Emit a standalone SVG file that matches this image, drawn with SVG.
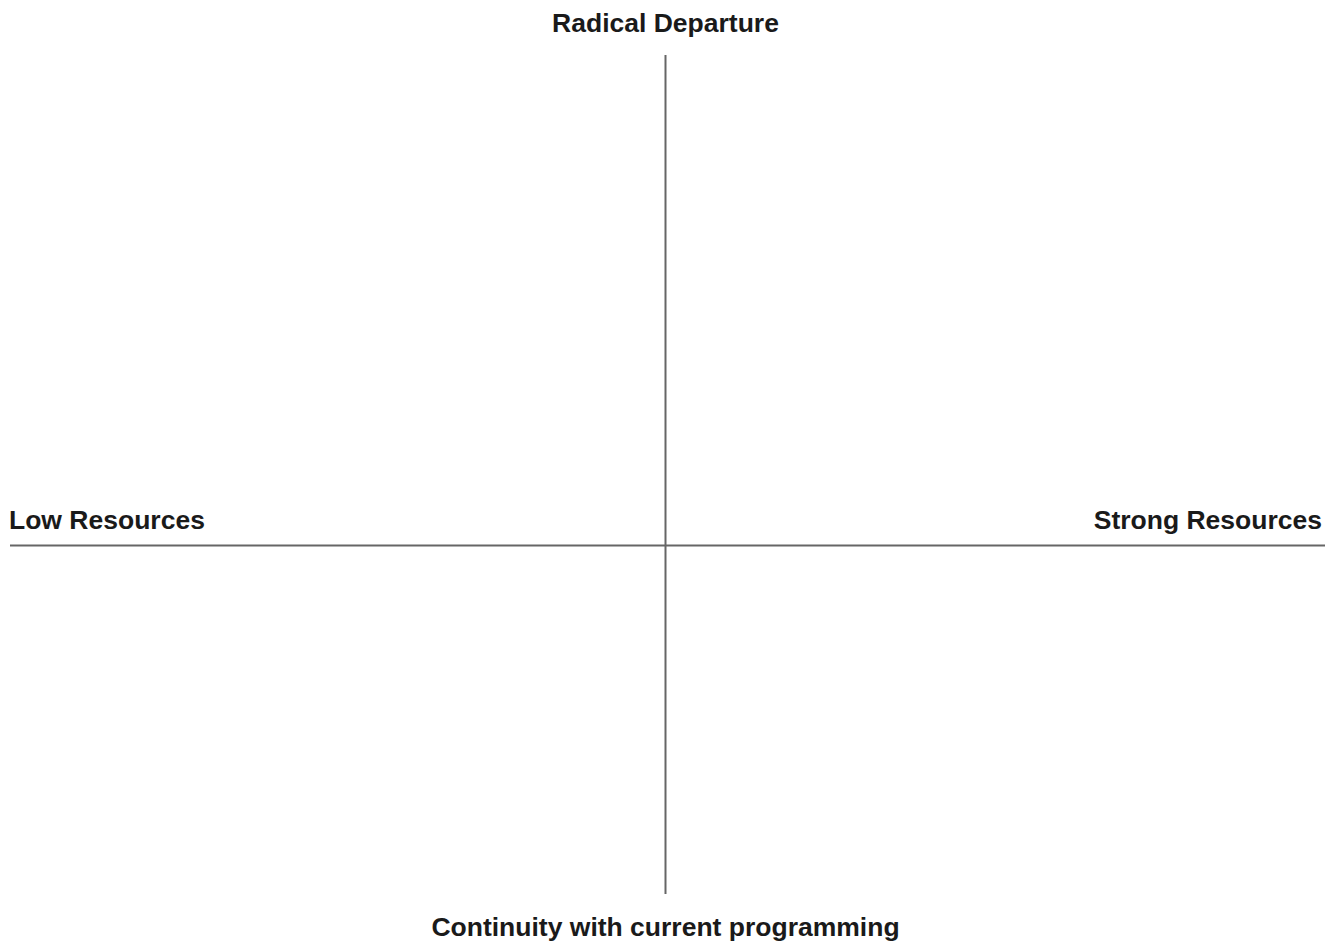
<svg xmlns="http://www.w3.org/2000/svg" width="1335" height="942" viewBox="0 0 1335 942">
<style>
.lbl{font-family:"Liberation Sans",Arial,sans-serif;font-weight:bold;font-size:26.5px;fill:#1a1a1a}
.ax{stroke:#666;stroke-width:2;fill:none}
</style>
<rect width="1335" height="942" fill="#fff"/>
<g id="axes">
<line class="ax" x1="665.5" y1="55" x2="665.5" y2="894"/>
<line class="ax" x1="10" y1="545.5" x2="1325" y2="545.5"/>
</g>
<g id="label-top"><text class="lbl" x="665.5" y="32" text-anchor="middle">Radical Departure</text></g>
<g id="label-left"><text class="lbl" x="9" y="529">Low Resources</text></g>
<g id="label-right"><text class="lbl" x="1322" y="529" text-anchor="end">Strong Resources</text></g>
<g id="label-bottom"><text class="lbl" x="665.5" y="936" text-anchor="middle">Continuity with current programming</text></g>
</svg>
